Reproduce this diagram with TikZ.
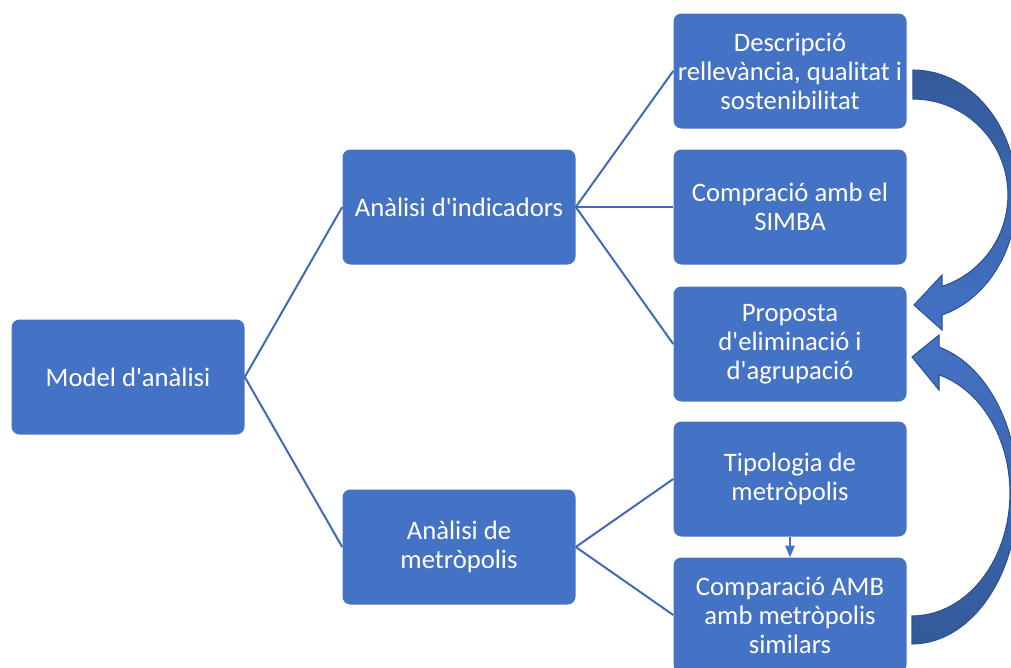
\documentclass[tikz,border=0pt]{standalone}
\usepackage{fontspec}
\setmainfont{Carlito}
\usepackage{tikz}
\usetikzlibrary{arrows,positioning}

\definecolor{boxblue}{HTML}{4472C4}
\definecolor{linkblue}{HTML}{4169B8}
\definecolor{arrdark}{HTML}{335A9A}
\definecolor{arredge}{HTML}{2F528F}

\newcommand{\ap}{\textquotesingle}

\begin{document}
\begin{tikzpicture}[x=0.75pt,y=-0.75pt,>=triangle 45,on grid,
        box/.style={rectangle,rounded corners=6pt,fill=boxblue,text=white,
          minimum width=174.75pt,minimum height=86.25pt,align=center,inner sep=2pt,
          font=\fontsize{20pt}{21.75pt}\selectfont},
        conn/.style={draw=linkblue,line width=1.5pt},
        bigarrow/.style={draw=arredge,line width=0.8pt}]

  \useasboundingbox (0,0) rectangle (1011,668);

  \node[box] (model) at (128,377) {Model d\ap anàlisi};
  \node[box] (ind) [above right=127.5pt and 248.25pt of model] {Anàlisi d\ap indicadors};
  \node[box] (met) [below right=127.5pt and 248.25pt of model] {Anàlisi de\\metròpolis};
  \node[box] (comp) [right=248.25pt of ind] {Compració amb el\\SIMBA};
  \node[box] (desc) [above=102pt of comp] {Descripció\\rellevància, qualitat i\\sostenibilitat};
  \node[box] (prop) [below=102.75pt of comp] {Proposta\\d\ap eliminació i\\d\ap agrupació};
  \node[box] (tip) [above right=51pt and 248.25pt of met] {Tipologia de\\metròpolis};
  \node[box] (amb) [below right=51pt and 248.25pt of met] {Comparació AMB\\amb metròpolis\\similars};

  \path[conn] (model.east) edge (ind.west)
                           edge (met.west)
              (ind.east)   edge (desc.west)
                           edge (comp.west)
                           edge (prop.west)
              (met.east)   edge (tip.west)
                           edge (amb.west);
  \draw[->,draw=boxblue,line width=1pt] (tip) -- (amb);

  % curved block arrows on the right
  \path[bigarrow,top color=arrdark,bottom color=boxblue]
    plot[domain=-90:73.8,samples=40] ({913+104*cos(\x)},{195+125*sin(\x)})
    -- (942,330) -- (914,305) -- (942,275) -- (942,287)
    -- plot[domain=72.2:-90,samples=40] ({913+95*cos(\x)},{195+96*sin(\x)})
    -- cycle;
  \path[bigarrow,top color=boxblue,bottom color=arrdark]
    plot[domain=90:-75.2,samples=40] ({912+106*cos(\x)},{493+151*sin(\x)})
    -- (939,335) -- (912,357) -- (939,390) -- (939,375)
    -- plot[domain=-74:90,samples=40] ({912+98*cos(\x)},{493+123*sin(\x)})
    -- cycle;

\end{tikzpicture}
\end{document}
